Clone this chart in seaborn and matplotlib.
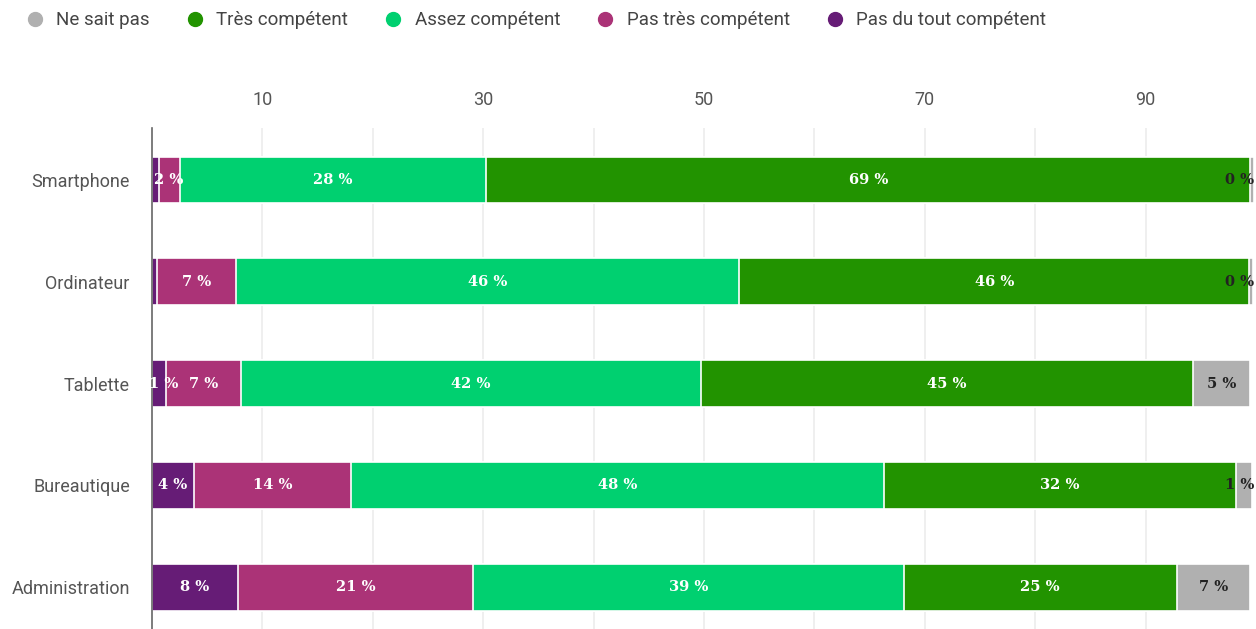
import numpy as np
import matplotlib
matplotlib.use("Agg")
import matplotlib.pyplot as plt
from matplotlib.lines import Line2D
import seaborn as sns

# data (percent)
categories = ['Smartphone', 'Ordinateur', 'Tablette', 'Bureautique', 'Administration']
pas_du_tout = [0.6, 0.5, 1.3, 3.8, 7.8]
pas_tres = [1.9, 7.1, 6.8, 14.2, 21.3]
assez = [27.8, 45.6, 41.6, 48.3, 39.0]
tres = [69.2, 46.2, 44.6, 31.9, 24.7]
ne_sait_pas = [0.3, 0.3, 5.2, 1.4, 6.7]

series_names = ['Pas du tout compétent', 'Pas très compétent', 'Assez compétent',
                'Très compétent', 'Ne sait pas']
series_values = [pas_du_tout, pas_tres, assez, tres, ne_sait_pas]
colors = ['#661c76', '#ab3377', '#00d070', '#229300', '#b0b0b0']
text_colors = ['white', 'white', 'white', 'white', '#222222']

x_ticks = [10, 20, 30, 40, 50, 60, 70, 80, 90]
x_ticklabels = ['10', '', '30', '', '50', '', '70', '', '90']

sns.set_style('white')
plt.rcParams['font.family'] = ['Roboto', 'DejaVu Sans']

fig = plt.figure(figsize=(12.56, 6.29), dpi=100)
ax = fig.add_axes([0.121, 0.0, 0.879, 0.7965])

vals = np.array(series_values)
cum = np.cumsum(vals, axis=0)

# stacked bars: draw cumulative totals from the widest down
for i in range(len(series_names) - 1, -1, -1):
    sns.barplot(x=cum[i], y=categories, orient='h', color=colors[i], width=0.46,
                edgecolor='white', linewidth=1.2, saturation=1, ax=ax)

# segment labels
for i in range(len(series_names)):
    for j in range(len(categories)):
        v = vals[i, j]
        if v < 1 and i != len(series_names) - 1:
            continue
        xc = cum[i, j] - v / 2
        xc = min(max(xc, 1.1), 98.5)
        ax.text(xc, j, f'{int(round(v))} %', ha='center', va='center',
                color=text_colors[i], fontsize=10.5, fontweight='bold',
                family='DejaVu Serif')

ax.set_xlim(0, 100)
ax.set_ylim(4.41, -0.51)
ax.set_xlabel('')
ax.set_ylabel('')

ax.xaxis.tick_top()
ax.set_xticks(x_ticks)
ax.set_xticklabels(x_ticklabels)
ax.tick_params(axis='x', length=0, pad=13.5, labelsize=13, labelcolor='#555555')
ax.grid(axis='x', color='#ebebeb', linewidth=1.1)
ax.set_axisbelow(True)

ax.tick_params(axis='y', which='major', length=0, pad=16, labelsize=13, labelcolor='#555555')
ax.set_yticks([0.5, 1.5, 2.5, 3.5], minor=True)
ax.tick_params(axis='y', which='minor', length=10, color='#d5dcea', width=1)

for s in ['top', 'right', 'bottom']:
    ax.spines[s].set_visible(False)
ax.spines['left'].set_color('#666666')
ax.spines['left'].set_linewidth(1.2)

# legend (reverse of stacking order)
handles = [Line2D([], [], marker='o', linestyle='', markersize=10,
                  markerfacecolor=colors[i], markeredgecolor=colors[i])
           for i in range(len(series_names) - 1, -1, -1)]
labels = [series_names[i] for i in range(len(series_names) - 1, -1, -1)]
fig.legend(handles, labels, loc='upper left', bbox_to_anchor=(0.0215, 0.982), ncol=5,
           frameon=False, fontsize=13.5, handlelength=0.8, handletextpad=0.75,
           columnspacing=2.0, borderpad=0, borderaxespad=0, labelcolor='#444444')

fig.savefig('out.png', dpi=100)
